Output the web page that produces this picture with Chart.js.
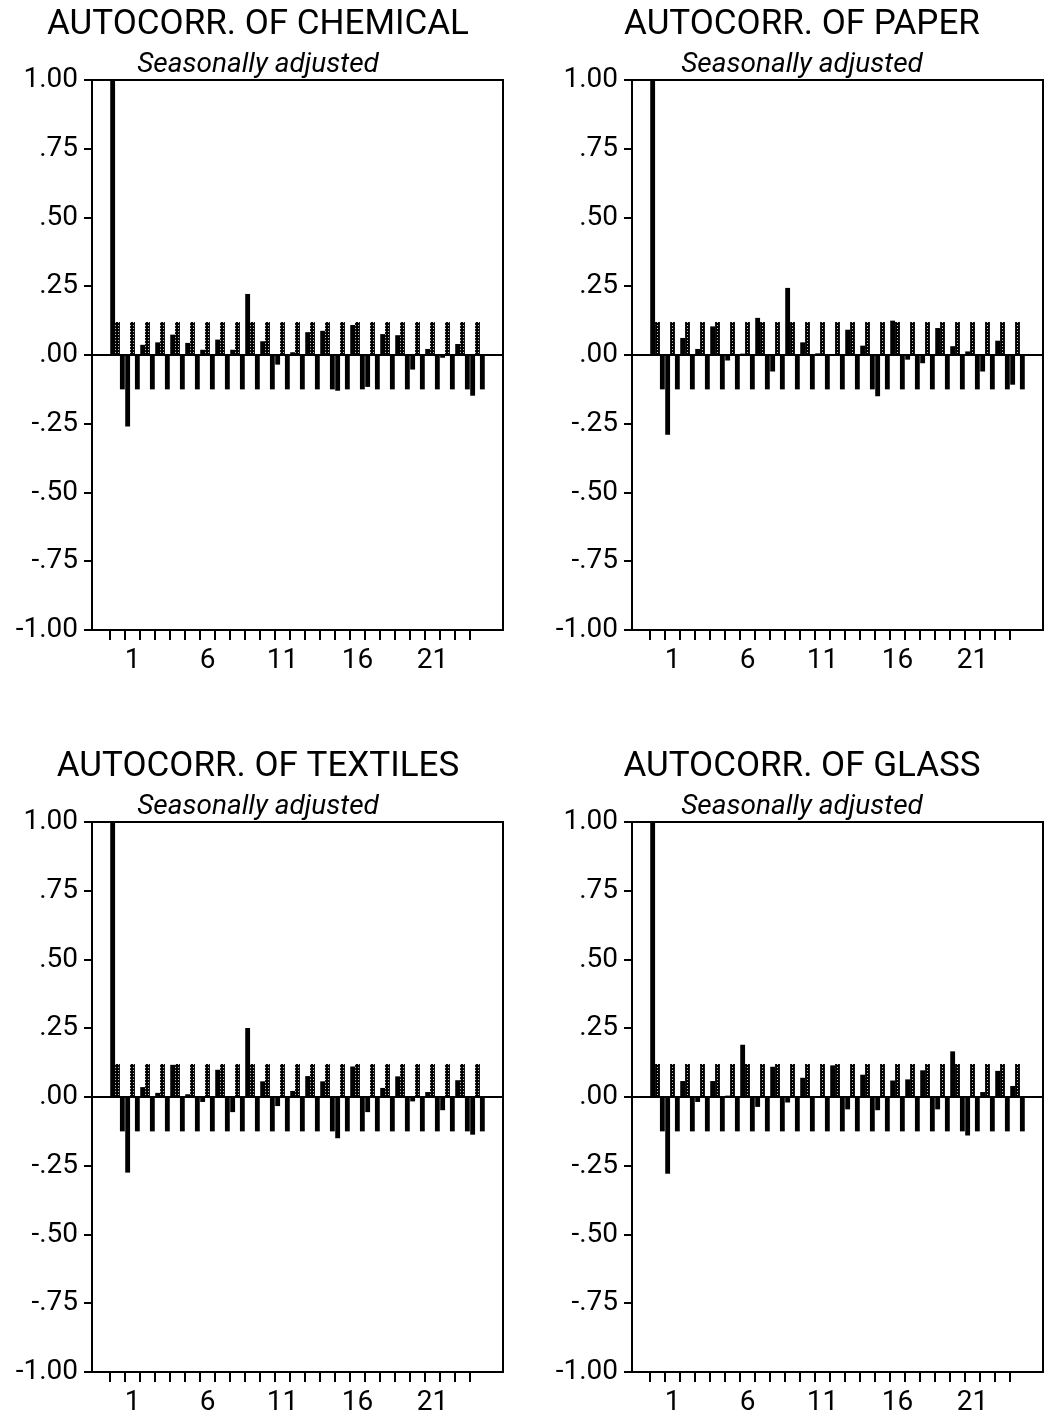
<!DOCTYPE html>
<html><head><meta charset="utf-8">
<script src="https://cdn.jsdelivr.net/npm/chart.js@4.4.1/dist/chart.umd.min.js"></script>
<style>
html,body{margin:0;padding:0;background:#fff;}
body{width:1054px;height:1426px;position:relative;overflow:hidden;}
canvas{position:absolute;}
</style></head><body>
<canvas id="c0" width="527" height="684" style="left:0px;top:0px"></canvas>
<canvas id="c1" width="527" height="684" style="left:527px;top:0px"></canvas>
<canvas id="c2" width="527" height="684" style="left:0px;top:742px"></canvas>
<canvas id="c3" width="527" height="684" style="left:527px;top:742px"></canvas>
<script>
// ---- data ----
const lags = [0,1,2,3,4,5,6,7,8,9,10,11,12,13,14,15,16,17,18,19,20,21,22,23,24];
const chemical = [1.00,-0.26,0.037,0.046,0.074,0.044,0.019,0.056,0.019,0.222,0.05,-0.035,0.01,0.083,0.088,-0.13,0.109,-0.116,0.076,0.072,-0.053,0.022,-0.01,0.04,-0.148];
const paper    = [1.00,-0.29,0.062,0.022,0.104,-0.02,0.005,0.135,-0.06,0.244,0.046,0.006,0.0,0.092,0.034,-0.15,0.125,-0.017,-0.03,0.098,0.032,0.013,-0.06,0.052,-0.108];
const textiles = [1.00,-0.275,0.036,0.015,0.117,0.01,-0.018,0.099,-0.055,0.251,0.057,-0.033,0.022,0.076,0.057,-0.15,0.111,-0.055,0.033,0.075,-0.016,0.018,-0.048,0.061,-0.137];
const glass    = [1.00,-0.279,0.058,-0.018,0.058,0.005,0.19,-0.036,0.11,-0.02,0.07,0.0,0.115,-0.045,0.081,-0.048,0.06,0.064,0.097,-0.045,0.166,-0.14,0.018,0.095,0.04];
const bandUpper = [0.12,0.12,0.12,0.12,0.12,0.12,0.12,0.12,0.12,0.12,0.12,0.12,0.12,0.12,0.12,0.12,0.12,0.12,0.12,0.12,0.12,0.12,0.12,0.12,0.12];
const bandLower = [-0.125,-0.125,-0.125,-0.125,-0.125,-0.125,-0.125,-0.125,-0.125,-0.125,-0.125,-0.125,-0.125,-0.125,-0.125,-0.125,-0.125,-0.125,-0.125,-0.125,-0.125,-0.125,-0.125,-0.125,-0.125];
const titles = ['AUTOCORR. OF CHEMICAL','AUTOCORR. OF PAPER','AUTOCORR. OF TEXTILES','AUTOCORR. OF GLASS'];
const subtitleText = 'Seasonally adjusted';
const xTickValues = [0,1,2,3,4,5,6,7,8,9,10,11,12,13,14,15,16,17,18,19,20,21,22,23];
const xLabelLags = [1,6,11,16,21];
const xLabelText = ['1','6','11','16','21'];
const yTickValues = [-1,-0.75,-0.5,-0.25,0,0.25,0.5,0.75,1];
const yTickLabels = ['-1.00','-.75','-.50','-.25','.00','.25','.50','.75','1.00'];

// ---- drawing ----
function dotPattern(ctx){
  const c=document.createElement('canvas'); c.width=3; c.height=3;
  const g=c.getContext('2d');
  g.fillStyle='#000'; g.fillRect(0,0,3,3);
  g.fillStyle='#c8c8c8'; g.fillRect(1,1,1,1);
  return ctx.createPattern(c,'repeat');
}
const tickFont = {family:'Roboto', size:28, weight:'normal'};

function makeChart(id, title, values, side){
  const canvas=document.getElementById(id);
  const ctx=canvas.getContext('2d');
  const pts = arr => lags.map((l,i)=>({x:l,y:arr[i]}));
  const L = side==='L';
  new Chart(ctx,{
    type:'bar',
    data:{datasets:[
      {label:'acf', data:pts(values), backgroundColor:'#000', borderWidth:0},
      {label:'upper', data:pts(bandUpper), backgroundColor:dotPattern(ctx), borderWidth:0},
      {label:'lower', data:pts(bandLower), backgroundColor:'#000', borderWidth:0}
    ]},
    options:{
      responsive:false, animation:false, events:[],
      layout:{padding:{left:L?0:23, right:L?11:0, top:0, bottom:0}},
      datasets:{bar:{barPercentage:1.0, categoryPercentage:0.97, xAxisID:'x', yAxisID:'y'}},
      plugins:{
        legend:{display:false}, tooltip:{enabled:false},
        title:{display:true, text:title, color:'#000', font:{family:'Roboto', size:35, weight:'normal', lineHeight:1}, padding:{top:8,bottom:0}},
        subtitle:{display:true, text:subtitleText, color:'#000', font:{family:'Roboto', size:28, style:'italic', weight:'normal', lineHeight:1}, padding:{top:8,bottom:1}}
      },
      scales:{
        x:{type:'linear', position:'bottom', min:-1.7, max:25.7, offset:false,
           afterBuildTicks:s=>{s.ticks=xTickValues.map(v=>({value:v}));},
           afterFit:s=>{s.height=54;},
           ticks:{autoSkip:false, maxRotation:0, minRotation:0, padding:4, font:tickFont, color:'#000',
                  callback:v=>{const i=xLabelLags.indexOf(v); return i>=0?xLabelText[i]:'';}},
           grid:{offset:true, drawOnChartArea:false, drawTicks:true, tickLength:10, color:'#000', lineWidth:2},
           border:{display:true, color:'#000', width:2}},
        xTop:{type:'linear', position:'top', min:-1.7, max:25.7, offset:false,
           ticks:{display:false}, grid:{display:false, drawTicks:false},
           border:{display:true, color:'#000', width:2},
           afterFit:s=>{s.height=0;}},
        y:{type:'linear', position:'left', min:-1, max:1,
           ticks:{stepSize:0.25, autoSkip:false, padding:6, font:tickFont, color:'#000',
                  callback:v=>{const i=yTickValues.indexOf(v); return i>=0?yTickLabels[i]:'';}},
           grid:{drawOnChartArea:true, drawTicks:true, tickLength:8, tickColor:'#000', lineWidth:2,
                 color:c=>(c.tick && c.tick.value===0)?'#000':'rgba(0,0,0,0)'},
           border:{display:true, color:'#000', width:2},
           afterFit:s=>{s.width=L?92:82;}},
        yR:{type:'linear', position:'right', min:-1, max:1,
           ticks:{display:false}, grid:{display:false, drawTicks:false},
           border:{display:true, color:'#000', width:2},
           afterFit:s=>{s.width=L?13:11;}}
      }
    }
  });
}
makeChart('c0', titles[0], chemical, 'L');
makeChart('c1', titles[1], paper, 'R');
makeChart('c2', titles[2], textiles, 'L');
makeChart('c3', titles[3], glass, 'R');
</script>
</body></html>
